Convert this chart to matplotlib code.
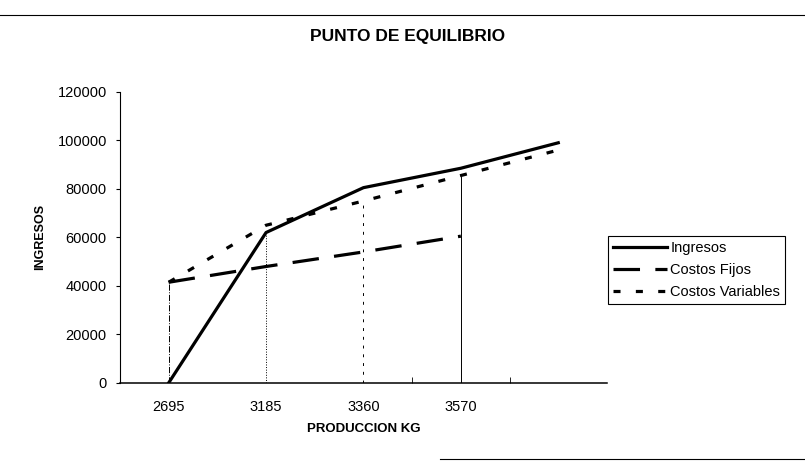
import matplotlib.pyplot as plt
from matplotlib.lines import Line2D

plt.rcParams['font.family'] = ['Liberation Sans', 'DejaVu Sans']

# datos
categorias = ['2695', '3185', '3360', '3570', '']
ingresos = [0, 62000, 80500, 88500, 99000]
costos_fijos = [41500, 48000, 54000, 60500]
costos_variables = [41500, 65000, 75000, 85500, 96000]
alturas_guia = [41500, 61000, 74000, 85000]
yticks = [0, 20000, 40000, 60000, 80000, 100000, 120000]

fig = plt.figure(figsize=(8.05, 4.71), dpi=100)
ax = fig.add_axes([0.149, 0.187, 0.605, 0.618])

x = list(range(len(categorias)))

# lineas de guia verticales
estilos_guia = ['-.', ':', (0, (3, 6)), '-']
for i, h in enumerate(alturas_guia):
    ax.plot([x[i], x[i]], [0, h], color='black', lw=0.7, ls=estilos_guia[i])

est_ing = '-'
est_fij = (0, (8.3, 4.8))
est_var = (0, (2.2, 4.8))
ax.plot(x, ingresos, color='black', lw=2.3, ls=est_ing)
ax.plot(x[:len(costos_fijos)], costos_fijos, color='black', lw=2.3, ls=est_fij)
ax.plot(x, costos_variables, color='black', lw=2.3, ls=est_var)

ax.set_xlim(-0.5, len(categorias) - 0.5)
ax.set_ylim(0, 120000)
ax.set_yticks(yticks)
ax.set_yticklabels([str(v) for v in yticks], fontsize=10.5)
ax.set_xticks(x[:4])
ax.set_xticklabels(categorias[:4], fontsize=10.5)
ax.tick_params(axis='x', length=0, pad=12)
ax.set_xticks([2.5, 3.5], minor=True)
ax.tick_params(axis='x', which='minor', direction='in', length=4)
ax.tick_params(axis='y', length=3, direction='out', pad=6.5)

for s in ['top', 'right']:
    ax.spines[s].set_visible(False)
ax.spines['left'].set_linewidth(0.8)
ax.spines['bottom'].set_linewidth(1.1)

ax.set_xlabel('PRODUCCION KG', fontsize=9.5, fontweight='bold', labelpad=7)
ax.set_ylabel('INGRESOS', fontsize=9, fontweight='bold', labelpad=8)
fig.text(0.506, 0.923, 'PUNTO DE EQUILIBRIO', ha='center', va='center',
         fontsize=12.5, fontweight='bold')

handles = [
    Line2D([], [], color='black', lw=2.3, ls=est_ing),
    Line2D([], [], color='black', lw=2.3, ls=est_fij),
    Line2D([], [], color='black', lw=2.3, ls=est_var),
]
leg = fig.legend(handles, ['Ingresos', 'Costos Fijos', 'Costos Variables'],
                 loc='upper left', bbox_to_anchor=(0.755, 0.499),
                 bbox_transform=fig.transFigure, fontsize=10.5,
                 handlelength=3.7, handletextpad=0.25, fancybox=False,
                 framealpha=1, edgecolor='black', borderpad=0.35,
                 borderaxespad=0, labelspacing=0.55)
leg.get_frame().set_linewidth(0.8)

# lineas de borde del escaneo
fig.add_artist(Line2D([0, 1], [0.968, 0.968], color='black', lw=0.8,
                      transform=fig.transFigure))
fig.add_artist(Line2D([0.547, 1], [0.025, 0.025], color='black', lw=0.8,
                      transform=fig.transFigure))

fig.savefig('out.png', dpi=100)
